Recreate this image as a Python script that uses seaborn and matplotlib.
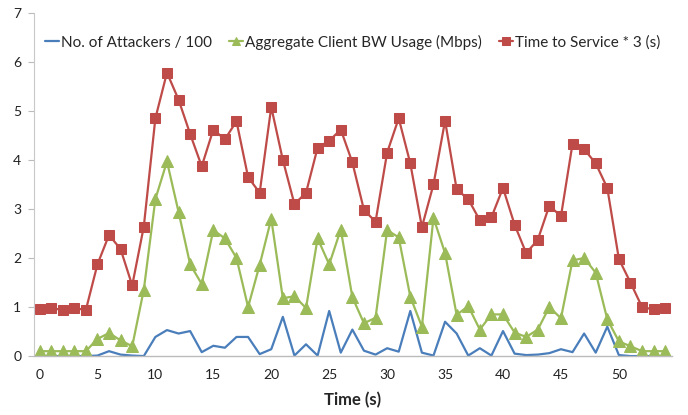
import numpy as np
import pandas as pd
import seaborn as sns
import matplotlib
matplotlib.use("Agg")
import matplotlib.pyplot as plt

# Data
time_s = list(range(55))
attackers = [0, 0, 0, 0, 0, 0.01, 0.1, 0.03, 0.01, 0.0,
             0.39, 0.53, 0.46, 0.51, 0.08, 0.21, 0.17, 0.39, 0.39, 0.04,
             0.14, 0.8, 0.01, 0.24, 0.01, 0.92, 0.07, 0.54, 0.11, 0.03,
             0.16, 0.09, 0.92, 0.07, 0.01, 0.7, 0.46, 0.01, 0.16, 0.01,
             0.51, 0.05, 0.02, 0.03, 0.06, 0.14, 0.08, 0.46, 0.07, 0.6,
             0.02, 0.0, 0.0, 0.0, 0.0]
bw_usage = [0.1, 0.1, 0.1, 0.1, 0.1, 0.35, 0.47, 0.32, 0.2, 1.35,
            3.2, 3.97, 2.94, 1.87, 1.47, 2.57, 2.4, 2.0, 1.0, 1.86,
            2.8, 1.18, 1.22, 0.98, 2.4, 1.87, 2.58, 1.2, 0.67, 0.78,
            2.57, 2.42, 1.21, 0.6, 2.82, 2.1, 0.84, 1.02, 0.54, 0.85,
            0.85, 0.48, 0.39, 0.54, 1.0, 0.77, 1.95, 2.0, 1.7, 0.75,
            0.3, 0.2, 0.1, 0.1, 0.1]
service_time = [0.95, 0.98, 0.94, 0.98, 0.94, 1.87, 2.47, 2.18, 1.44, 2.64,
                4.85, 5.78, 5.23, 4.53, 3.87, 4.62, 4.42, 4.79, 3.65, 3.33,
                5.08, 4.0, 3.1, 3.33, 4.25, 4.39, 4.62, 3.95, 2.98, 2.74,
                4.15, 4.85, 3.93, 2.63, 3.5, 4.8, 3.4, 3.2, 2.77, 2.83,
                3.43, 2.68, 2.1, 2.37, 3.07, 2.85, 4.33, 4.22, 3.93, 3.43,
                1.98, 1.5, 1.0, 0.95, 0.98]

df = pd.DataFrame({
    "Time": time_s,
    "No. of Attackers / 100": attackers,
    "Aggregate Client BW Usage (Mbps)": bw_usage,
    "Time to Service * 3 (s)": service_time,
})

sns.set_style("white")
plt.rcParams['font.family'] = ['Lato', 'DejaVu Sans']

fig = plt.figure(figsize=(6.88, 4.15), dpi=100)
ax = fig.add_axes([0.049, 0.142, 0.928, 0.827])

sns.lineplot(data=df, x="Time", y="No. of Attackers / 100", ax=ax,
             color="#4A7EBB", linewidth=1.6, label="No. of Attackers / 100")
sns.lineplot(data=df, x="Time", y="Aggregate Client BW Usage (Mbps)", ax=ax,
             color="#9BBB59", linewidth=1.6, marker="^", markersize=8.5,
             markeredgecolor="#9BBB59", label="Aggregate Client BW Usage (Mbps)")
sns.lineplot(data=df, x="Time", y="Time to Service * 3 (s)", ax=ax,
             color="#BE4B48", linewidth=1.6, marker="s", markersize=7.5,
             markeredgecolor="#BE4B48", label="Time to Service * 3 (s)")

ax.set_xlim(-0.5, 54.6)
ax.set_ylim(0, 7)
ax.set_xticks(range(0, 51, 5))
ax.set_yticks(range(0, 8))
ax.tick_params(axis='both', labelsize=10, colors='#222222')
ax.tick_params(axis='x', length=0, pad=9)
ax.tick_params(axis='y', length=4, width=0.8, color='#BBBBBB', left=True, pad=5)
ax.set_xlabel("Time (s)", fontsize=12, fontweight='bold', labelpad=8)
ax.set_ylabel("")

for side in ['top', 'right']:
    ax.spines[side].set_visible(False)
ax.spines['left'].set_color('#C8C8C8')
ax.spines['bottom'].set_color('#BBBBBB')
ax.spines['left'].set_linewidth(0.8)
ax.spines['bottom'].set_linewidth(1.0)

ax.legend(loc='center', bbox_to_anchor=(0.5, 0.915), ncol=3, frameon=False,
          fontsize=11, handlelength=0.9, handletextpad=0.15, columnspacing=1.1,
          markerscale=0.75)

fig.savefig("out.png", dpi=100)
